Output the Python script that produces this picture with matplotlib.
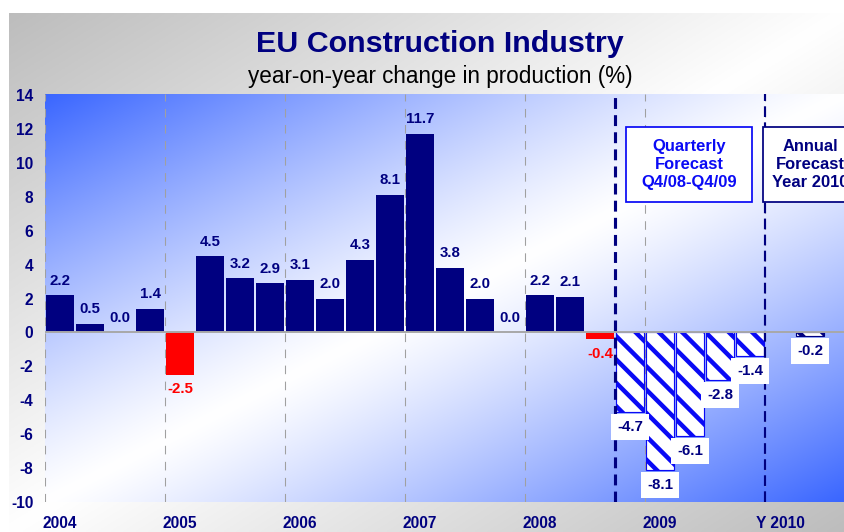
import numpy as np
import matplotlib
matplotlib.use('Agg')
import matplotlib.pyplot as plt
from matplotlib.patches import Rectangle

plt.rcParams['font.family'] = ['Liberation Sans', 'DejaVu Sans']
plt.rcParams['axes.unicode_minus'] = False
plt.rcParams['hatch.linewidth'] = 2.3

# data: quarterly y/y change, 2004 Q1 .. 2008 Q3 (actual)
actual = [2.2, 0.5, 0.0, 1.4,
          -2.5, 4.5, 3.2, 2.9,
          3.1, 2.0, 4.3, 8.1,
          11.7, 3.8, 2.0, 0.0,
          2.2, 2.1, -0.4]
# quarterly forecast Q4/08 .. Q4/09
forecast_q = [-4.7, -8.1, -6.1, -2.8, -1.4]
# annual forecast 2010
forecast_y = [-0.2]
year_labels = ['2004', '2005', '2006', '2007', '2008', '2009', 'Y 2010']

NAVY = '#000080'
BLUE = '#0a0af5'
DPI = 140

fig = plt.figure(figsize=(844 / DPI, 532 / DPI), dpi=DPI)
fig.patch.set_facecolor('white')

# outer grey gradient background
bg = fig.add_axes([9 / 844, 0, 1 - 9 / 844, 519 / 532])
bg.axis('off')
X, Y = np.meshgrid(np.linspace(0, 1, 400), np.linspace(0, 1, 250))
s = np.abs((X + Y) / 2 - 0.5) * 2
grey = 1 - 0.26 * s
bg.imshow(np.dstack([grey, grey, grey]), aspect='auto', extent=(0, 1, 0, 1))
bg.set_xlim(0, 1)
bg.set_ylim(0, 1)

ax = fig.add_axes([45 / 844, 30 / 532, 1 - 45 / 844, 408 / 532])
ax.patch.set_visible(False)

# plot area blue-white-blue diagonal gradient
blue = np.array([58, 102, 255]) / 255.0
s2 = np.abs((X + Y) / 2 - 0.5) * 2
s2 = s2 ** 1.2
img = 1 - s2[..., None] * (1 - blue[None, None, :])
ax.imshow(img, aspect='auto', extent=(0, 1, 0, 1), transform=ax.transAxes, zorder=0)

x_act = np.arange(len(actual))
x_fq = np.arange(len(actual), len(actual) + len(forecast_q))
x_fy = np.array([x_fq[-1] + 2])

w = 0.93
cols = [NAVY if v >= 0 else 'red' for v in actual]
ax.bar(x_act, actual, width=w, color=cols, zorder=2)
ax.bar(x_fq, forecast_q, width=w, color='white', edgecolor=BLUE, hatch='\\\\', linewidth=0.6, zorder=2)
ax.bar(x_fy, forecast_y, width=w, color='white', edgecolor=NAVY, hatch='\\\\', linewidth=0.6, zorder=2)

# year separators
for xb in [-0.5, 3.5, 7.5, 11.5, 15.5, 19.5, 23.5]:
    ax.axvline(xb, color='#a0a0a0', lw=0.55, ls=(0, (8, 7)), zorder=1)
ax.axvline(18.5, color=NAVY, lw=1.6, ls=(0, (3.5, 2)), zorder=3)
ax.axvline(23.5, color=NAVY, lw=1.1, ls=(0, (5, 2.5)), zorder=3)
ax.axhline(0, color='#a8a8a8', lw=1.0, zorder=3)

# value labels
for xi, v in zip(x_act, actual):
    off = 7.5 if v >= 0 else -7.5
    ax.annotate(f'{v:.1f}', (xi, v), xytext=(0, off),
                textcoords='offset points', ha='center', va='center',
                fontsize=7.7, fontweight='bold', color=NAVY if v >= 0 else 'red', zorder=5)
for xi, v in zip(np.concatenate([x_fq, x_fy]), forecast_q + forecast_y):
    ax.annotate(f'{v:.1f}', (xi, v), xytext=(0, -7.8),
                textcoords='offset points', ha='center', va='center',
                fontsize=7.7, fontweight='bold', color=NAVY, zorder=5,
                bbox=dict(boxstyle='square,pad=0.4', fc='white', ec='none'))

# forecast boxes
ax.add_patch(Rectangle((18.87, 7.67), 4.2, 4.42, fc='white', ec=BLUE, lw=0.9, zorder=4))
ax.text(20.97, 9.88, 'Quarterly\nForecast\nQ4/08-Q4/09', ha='center', va='center',
        fontsize=8.5, fontweight='bold', color=BLUE, linespacing=1.25, zorder=5)
ax.add_patch(Rectangle((23.43, 7.67), 4.0, 4.42, fc='white', ec=NAVY, lw=0.9, zorder=4))
ax.text(25.0, 9.88, 'Annual\nForecast\nYear 2010', ha='center', va='center',
        fontsize=8.5, fontweight='bold', color=NAVY, linespacing=1.25, zorder=5)

ax.set_xlim(-0.5, 26.13)
ax.set_ylim(-10, 14.06)
ax.set_yticks(range(-10, 15, 2))
ax.set_xticks([0, 4, 8, 12, 16, 20, 24])
ax.set_xticklabels(year_labels)
ax.tick_params(axis='y', length=0, pad=6, labelsize=8, labelcolor=NAVY)
ax.tick_params(axis='x', length=0, pad=7, labelsize=8, labelcolor=NAVY)
for lab in ax.get_xticklabels() + ax.get_yticklabels():
    lab.set_fontweight('bold')
for sp in ax.spines.values():
    sp.set_visible(False)

fig.text(440 / 844, (532 - 52) / 532, 'EU Construction Industry', ha='center', va='baseline',
         fontsize=15.6, fontweight='bold', color=NAVY)
fig.text(440 / 844, (532 - 83) / 532, 'year-on-year change in production (%)', ha='center',
         va='baseline', fontsize=11.6, color='black')

fig.savefig('out.png', dpi=DPI)
